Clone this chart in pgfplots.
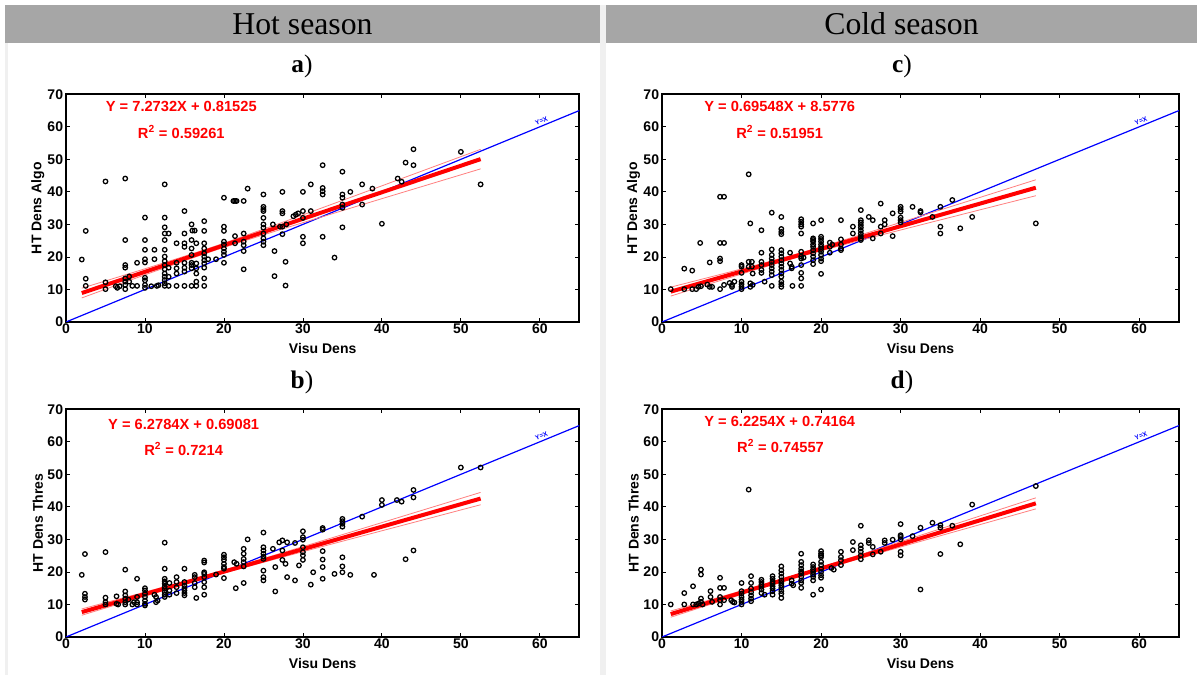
\documentclass[border=0pt]{standalone}
\usepackage{fontspec}
\setmainfont{Liberation Sans}
\newfontfamily\seriffont{Liberation Serif}
\usepackage{pgfplots}
\pgfplotsset{compat=1.18}
\definecolor{hdr}{HTML}{A6A6A6}
\definecolor{strip}{HTML}{F0F0F0}
\definecolor{band}{HTML}{FF8080}

\pgfplotsset{
  panel/.style={
    scale only axis, height=170.8pt,
    xmin=0,xmax=65,ymin=0,ymax=70,
    xtick={0,10,...,60}, ytick={0,10,...,70},
    axis line style={line width=1.4pt},
    tick align=inside, major tick length=3pt,
    every tick/.style={black, line width=0.6pt},
    tick label style={font=\bfseries\fontsize{10.5}{12}\selectfont},
    /pgf/number format/assume math mode=true,
    xticklabel style={inner sep=1pt},
    yticklabel style={inner sep=2pt},
    label style={font=\bfseries\fontsize{10.5}{12}\selectfont},
    xlabel={Visu Dens},
    xlabel style={at={(axis description cs:0.5,-0.118)},anchor=center},
    ylabel style={at={(axis description cs:-0.055,0.5)},anchor=center},
  },
  pts/.style={only marks, mark=o, mark size=1.7pt, line width=0.95pt, black},
  yx/.style={blue, line width=0.9pt},
  bnd/.style={band, line width=0.6pt, smooth},
  reg/.style={red, line width=3pt},
}
\tikzset{eqn/.style={text=red, font=\bfseries\fontsize{11}{13}\selectfont}}
\newcommand{\yxlabel}{node[pos=0.93, sloped, above, inner sep=1.5pt, font=\bfseries\fontsize{5}{6}\selectfont, text=blue] {Y=X}}

\begin{document}
\begin{tikzpicture}[x=0.75pt,y=0.75pt]
\useasboundingbox (0,0) rectangle (1197,675);
\fill[white] (0,0) rectangle (1197,675);
\fill[strip] (5,0) rectangle (8,632);
\fill[strip] (600,0) rectangle (606,670);
\fill[hdr] (5,632) rectangle (600,670);
\fill[hdr] (606,632) rectangle (1197,670);
\node[font=\seriffont\fontsize{23.8}{28}\selectfont] at (302.5,651) {Hot season};
\node[font=\seriffont\fontsize{23.8}{28}\selectfont] at (901.5,651) {Cold season};
\node[font=\seriffont\fontsize{19}{22}\selectfont] at (302,609) {\textbf{a})};
\node[font=\seriffont\fontsize{19}{22}\selectfont] at (302,293) {\textbf{b})};
\node[font=\seriffont\fontsize{19}{22}\selectfont] at (902,609) {\textbf{c})};
\node[font=\seriffont\fontsize{19}{22}\selectfont] at (902,293) {\textbf{d})};

% ---------- a) ----------
\begin{axis}[panel, width=385pt, at={(49.5pt,264.75pt)}, anchor=south west, ylabel={HT Dens Algo}]
\addplot[pts] coordinates {
(2.0,19.2)(2.5,28.0)(2.5,13.3)(2.5,11.1)(5.0,43.2)(5.0,12.2)(5.0,10.1)(6.3,11.0)(6.5,10.5)(6.8,11.0)(7.5,44.1)(7.5,25.2)(7.5,17.5)(7.5,16.7)(7.5,13.4)(7.5,12.4)(7.5,11.4)(7.5,10.1)(8.0,14.0)(8.0,12.4)(8.4,11.1)(9.0,11.1)(9.0,18.2)(10,32.1)(10,25.2)(10,22.2)(10,19.3)(10,18.3)(10,13.6)(10,12.8)(10,11.4)(10,10.5)(11.2,22.2)(11.2,19.3)(10.8,11.0)(11.5,11.1)(11.7,11.3)(12.5,42.3)(12.5,32.1)(12.5,29.1)(12.5,27.2)(12.5,25.2)(12.5,22.2)(12.5,20.1)(12.5,18.7)(12.5,17.5)(12.5,16.2)(12.5,14.9)(12.5,13.9)(12.5,12.9)(12.5,11.9)(12.5,11.1)(13,27.2)(13,16.7)(13,13.9)(13,11.1)(14,24.2)(14,18.2)(14,16.5)(14,14.9)(14,11.1)(15,34.1)(15,27.2)(15,24.2)(15,23.1)(15,18.2)(15,16.7)(15,15.5)(15,11.1)(15.9,30.0)(16.0,28.1)(16.3,28.1)(15.9,25.2)(15.9,22.6)(15.9,20.6)(15.9,18.2)(15.9,17.5)(15.9,16.5)(15.9,11.1)(16.5,24.2)(16.5,18.0)(16.5,16.5)(16.5,14.9)(16.5,12.4)(16.5,11.1)(17.5,31.0)(17.5,28.0)(17.5,24.2)(17.5,22.6)(17.5,21.1)(17.5,20.1)(17.5,19.0)(17.5,18.0)(17.5,16.7)(17.5,13.4)(17.5,11.1)(18,19.3)(19,19.3)(20,29.3)(20,28.0)(20,24.7)(20,23.8)(20,22.6)(20,21.6)(20,20.6)(20,18.2)(20,38.2)(21.2,37.2)(21.4,37.2)(21.6,37.2)(22.5,37.2)(21.4,26.4)(21.4,24.2)(22.5,27.2)(22.5,24.7)(22.5,23.6)(22.5,21.8)(22.5,16.2)(23,41.0)(25,39.2)(25,35.4)(25,34.7)(25,34.1)(25,32.0)(25,30.0)(25,29.0)(25,27.2)(25,25.7)(25,24.7)(25,23.6)(26.2,30.0)(26.4,21.8)(26.4,14.1)(27.1,29.3)(27.4,29.3)(27.4,40.0)(27.4,34.1)(27.4,33.4)(27.4,27.0)(27.8,18.5)(27.8,11.2)(27.9,30.0)(28.8,32.5)(29.1,33.0)(29.4,33.4)(30,40.0)(30,34.1)(30,32.0)(30,26.2)(30,24.2)(31,42.3)(31,34.1)(32.5,48.2)(32.5,41.2)(32.5,40.2)(32.5,39.2)(32.5,26.2)(34,19.8)(35,46.2)(35,39.2)(35,38.2)(35,36.1)(35,35.1)(35,29.1)(36,40.0)(37.5,42.3)(37.5,36.1)(38.8,41.0)(40,30.2)(42,44.1)(42.5,43.1)(43,49.0)(44,53.1)(44,48.2)(50,52.3)(52.5,42.3)
};
\addplot[yx] coordinates {(0,0)(65,65)} \yxlabel;
\addplot[bnd] coordinates {(2,10.40)(10,16.36)(18,22.58)(26,29.40)(34,36.49)(42,43.65)(52.5,53.07)};
\addplot[bnd] coordinates {(2,7.40)(10,14.50)(18,21.32)(26,27.54)(34,33.49)(42,39.38)(52.5,47.07)};
\addplot[reg] coordinates {(2,8.90)(52.5,50.07)};
\node[eqn] at (axis cs:14.6,66.3) {Y = 7.2732X + 0.81525};
\node[eqn] at (axis cs:14.6,58.4) {R\textsuperscript{2} = 0.59261};
\end{axis}

% ---------- b) ----------
\begin{axis}[panel, width=385pt, at={(49.5pt,28.5pt)}, anchor=south west, ylabel={HT Dens Thres}]
\addplot[pts] coordinates {
(2.0,19.1)(2.4,25.5)(2.4,13.3)(2.4,12.3)(2.4,11.5)(5.0,26.1)(5.0,12.1)(5.0,10.7)(5.0,10.0)(6.4,12.5)(6.4,10.2)(6.6,10.0)(7.5,20.7)(7.5,14.0)(7.5,12.8)(7.5,11.8)(7.5,10.7)(7.5,10.0)(7.9,11.5)(8.4,10.0)(8.6,10.7)(9.0,17.9)(9.0,12.3)(9.0,10.7)(9.0,10.0)(10,15.0)(10,14.3)(10,13.3)(10,12.3)(10,11.2)(10,10.2)(10,9.7)(11.2,13.0)(11.4,12.3)(11.6,11.2)(11.4,10.7)(12.5,29.0)(12.5,21.0)(12.5,17.9)(12.5,17.1)(12.5,16.4)(12.5,15.5)(12.5,14.8)(12.5,13.8)(12.5,13.0)(12.5,12.3)(13.1,16.6)(13.1,14.3)(13.1,13.0)(14,18.4)(14,16.9)(14,15.3)(14,13.5)(15,21.0)(15,16.9)(15,15.8)(15,15.0)(15,14.3)(15,13.5)(15,12.8)(16.3,19.1)(16.3,18.4)(16.3,16.6)(16.3,15.3)(16.5,12.0)(17.5,23.5)(17.5,22.9)(17.5,19.9)(17.5,19.4)(17.5,18.4)(17.5,16.9)(17.5,15.3)(17.5,13.0)(19,19.2)(20,25.3)(20,24.5)(20,23.7)(20,22.5)(20,21.5)(20,21.0)(20,18.1)(21.3,23.0)(21.6,22.5)(21.5,15.0)(22.5,27.1)(22.5,25.6)(22.5,24.0)(22.5,23.0)(22.5,21.7)(22.5,16.6)(23,30.0)(25,32.1)(25,27.6)(25,26.6)(25,25.6)(25,24.7)(25,24.0)(25,20.4)(25,18.4)(25,17.4)(26.2,27.1)(26.5,21.5)(26.5,14.0)(27,29.1)(27.4,29.7)(28,29.1)(27.4,26.6)(27.4,23.7)(27.8,22.5)(28,18.4)(29,28.9)(29,17.4)(29.5,22.0)(30,32.5)(30,30.7)(30,29.9)(30,27.6)(30,26.1)(30,25.1)(30,23.7)(31,16.1)(31.3,19.9)(32.5,33.5)(32.5,33.0)(32.5,26.4)(32.5,23.8)(32.5,21.5)(32.5,17.9)(34,19.4)(35,36.3)(35,35.6)(35,34.8)(35,33.9)(35,24.5)(35,21.7)(35,19.9)(36,19.1)(37.5,37.0)(39,19.1)(40,42.1)(40,40.6)(41.9,42.1)(42.5,41.6)(43,23.9)(44,45.2)(44,42.9)(44,26.6)(50,52.1)(52.5,52.1)
};
\addplot[yx] coordinates {(0,0)(65,65)} \yxlabel;
\addplot[bnd] coordinates {(2,8.63)(10,13.81)(18,19.16)(26,24.86)(34,30.73)(42,36.65)(52.5,44.45)};
\addplot[bnd] coordinates {(2,6.69)(10,12.57)(18,18.27)(26,23.62)(34,28.80)(42,33.93)(52.5,40.65)};
\addplot[reg] coordinates {(2,7.66)(52.5,42.55)};
\node[eqn] at (axis cs:14.9,65.4) {Y = 6.2784X + 0.69081};
\node[eqn] at (axis cs:14.9,57.8) {R\textsuperscript{2} = 0.7214};
\end{axis}

% ---------- c) ----------
\begin{axis}[panel, width=387.75pt, at={(496.5pt,264.75pt)}, anchor=south west, ylabel={HT Dens Algo}]
\addplot[pts] coordinates {
(1.1,10.1)(2.8,16.4)(2.8,10.1)(3.8,15.8)(3.8,10.1)(4.3,10.1)(4.6,10.8)(4.9,11.0)(4.8,24.3)(5.7,11.5)(6.0,10.8)(6.3,10.8)(6.0,18.3)(7.3,38.5)(7.8,38.5)(7.3,24.3)(7.8,24.3)(7.3,19.5)(7.3,18.7)(7.3,10.1)(7.8,11.4)(8.5,12.0)(8.8,11.4)(8.8,10.8)(9.1,12.4)(10,17.5)(10,17.0)(10,15.1)(10,12.4)(10,11.6)(10,10.8)(10,10.1)(10.9,45.4)(11.1,30.3)(10.9,18.5)(11.3,18.5)(10.9,17.0)(11.3,17.0)(11.4,14.9)(11.1,11.9)(11.4,11.4)(11.1,10.8)(12.5,28.2)(12.5,21.3)(12.5,18.5)(12.5,17.5)(12.5,16.0)(12.5,15.1)(12.9,12.4)(13.8,33.6)(13.8,22.3)(13.8,20.6)(13.8,19.5)(13.8,18.5)(13.8,17.5)(13.8,16.5)(13.8,15.5)(13.8,14.4)(13.8,11.1)(15,32.3)(15,28.6)(15,27.7)(15,27.0)(15,22.1)(15,21.1)(15,20.1)(15,19.0)(15,18.0)(15,17.0)(15,16.0)(15,14.9)(15,13.9)(15,12.4)(15,11.6)(15,10.8)(16.1,21.3)(16.1,18.0)(16.3,17.0)(16.3,16.5)(16.4,11.1)(17.5,31.6)(17.5,30.8)(17.5,30.0)(17.5,29.3)(17.5,27.2)(17.5,21.6)(17.5,20.1)(17.5,19.5)(17.5,17.5)(17.5,15.1)(17.5,13.4)(17.5,11.1)(17.8,19.8)(19,30.3)(19,25.7)(19,25.2)(19,24.7)(19,23.8)(19,23.1)(19,22.1)(19,21.1)(19,20.1)(19,19.0)(19,17.8)(20,31.3)(20,26.2)(20,25.5)(20,24.7)(20,23.8)(20,23.1)(20,22.4)(20,21.6)(20,20.6)(20,19.5)(20,18.7)(20,14.8)(21.1,24.4)(21.1,23.1)(21.1,21.3)(21.4,23.8)(22.5,31.3)(22.5,25.4)(22.5,23.8)(22.5,22.6)(22.5,22.1)(24,29.3)(24,27.2)(25,34.4)(25,31.3)(25,30.6)(25,29.8)(25,29.0)(25,28.1)(25,27.2)(25,26.4)(25,25.7)(25,25.2)(26,32.3)(26.5,31.3)(26.5,25.7)(27.5,36.4)(27.5,29.3)(27.5,27.2)(28,31.3)(28,30.0)(29,33.4)(29,26.4)(30,35.4)(30,34.7)(30,33.9)(30,32.1)(30,31.3)(30,30.6)(31.5,35.4)(32.5,34.1)(32.5,33.7)(34,32.3)(35,35.4)(35,29.3)(35,27.2)(36.5,37.5)(37.5,28.8)(39,32.3)(47,30.3)
};
\addplot[yx] coordinates {(0,0)(65,65)} \yxlabel;
\addplot[bnd] coordinates {(1.1,10.72)(9,15.68)(17,20.95)(25,26.80)(33,32.92)(40,38.31)(47,43.72)};
\addplot[bnd] coordinates {(1.1,7.97)(9,14.00)(17,19.85)(25,25.13)(33,30.14)(40,34.49)(47,38.82)};
\addplot[reg] coordinates {(1.1,9.34)(47,41.27)};
\node[eqn] at (axis cs:14.8,66.3) {Y = 0.69548X + 8.5776};
\node[eqn] at (axis cs:14.8,58.4) {R\textsuperscript{2} = 0.51951};
\end{axis}

% ---------- d) ----------
\begin{axis}[panel, width=387.75pt, at={(496.5pt,28.5pt)}, anchor=south west, ylabel={HT Dens Thres}]
\addplot[pts] coordinates {
(1.1,10.0)(2.8,13.5)(2.8,10.0)(3.9,15.6)(3.9,10.0)(4.3,10.0)(4.6,10.3)(4.9,20.7)(4.9,19.2)(4.9,11.8)(4.9,10.8)(5.1,10.0)(6.1,14.1)(6.1,12.3)(6.3,10.8)(7.3,18.2)(7.3,15.1)(7.8,15.1)(7.3,12.3)(7.3,11.3)(7.3,10.0)(7.8,11.3)(8.7,11.3)(8.9,10.8)(9.1,10.6)(10,16.6)(10,14.1)(10,13.3)(10,12.3)(10,11.5)(10,10.8)(10,10.0)(10.9,45.3)(11.2,18.7)(11.2,16.6)(11.2,14.9)(11.2,13.8)(11.2,12.8)(11.2,11.8)(11.2,11.0)(12.5,17.6)(12.5,16.9)(12.5,16.1)(12.5,15.4)(12.5,14.6)(12.5,13.5)(12.9,13.0)(13.9,18.7)(13.9,17.9)(13.9,17.1)(13.9,16.4)(13.9,15.6)(13.9,14.9)(13.9,14.1)(13.9,13.0)(15,21.7)(15,20.5)(15,19.5)(15,18.5)(15,17.4)(15,16.6)(15,15.9)(15,15.1)(15,14.1)(15,13.3)(15,12.0)(16.3,17.4)(16.3,16.4)(16.5,15.9)(17.5,25.6)(17.5,23.1)(17.5,22.1)(17.5,21.0)(17.5,20.2)(17.5,19.5)(17.5,18.5)(17.5,17.4)(17.5,16.6)(17.5,15.1)(19,22.3)(19,21.5)(19,20.7)(19,20.0)(19,19.2)(19,18.5)(19,17.4)(19,13.0)(20,26.4)(20,25.6)(20,25.1)(20,24.6)(20,23.1)(20,22.1)(20,21.0)(20,20.0)(20,19.0)(20,18.2)(20,14.6)(21.3,21.2)(21.6,20.7)(22.5,26.2)(22.5,24.6)(22.5,23.6)(22.5,22.1)(24,29.2)(24,26.7)(25,34.2)(25,28.2)(25,27.2)(25,26.2)(25,25.1)(25,23.9)(26,29.7)(26,28.9)(26.5,27.7)(26.5,25.4)(27.5,26.2)(28,29.7)(28,28.9)(29,29.9)(30,34.7)(30,31.3)(30,30.8)(30,30.0)(30,26.2)(30,25.1)(31.5,31.0)(32.5,33.6)(32.5,14.6)(34,35.1)(35,34.4)(35,33.6)(35,25.5)(36.5,34.2)(37.5,28.5)(39,40.7)(47,46.4)
};
\addplot[yx] coordinates {(0,0)(65,65)} \yxlabel;
\addplot[bnd] coordinates {(1.1,8.00)(9,13.49)(17,19.22)(25,25.35)(33,31.66)(40,37.22)(47,42.78)};
\addplot[bnd] coordinates {(1.1,6.08)(9,12.31)(17,18.45)(25,24.18)(33,29.74)(40,34.56)(47,39.38)};
\addplot[reg] coordinates {(1.1,7.04)(47,41.08)};
\node[eqn] at (axis cs:14.8,66.4) {Y = 6.2254X + 0.74164};
\node[eqn] at (axis cs:14.9,58.7) {R\textsuperscript{2} = 0.74557};
\end{axis}
\end{tikzpicture}
\end{document}
